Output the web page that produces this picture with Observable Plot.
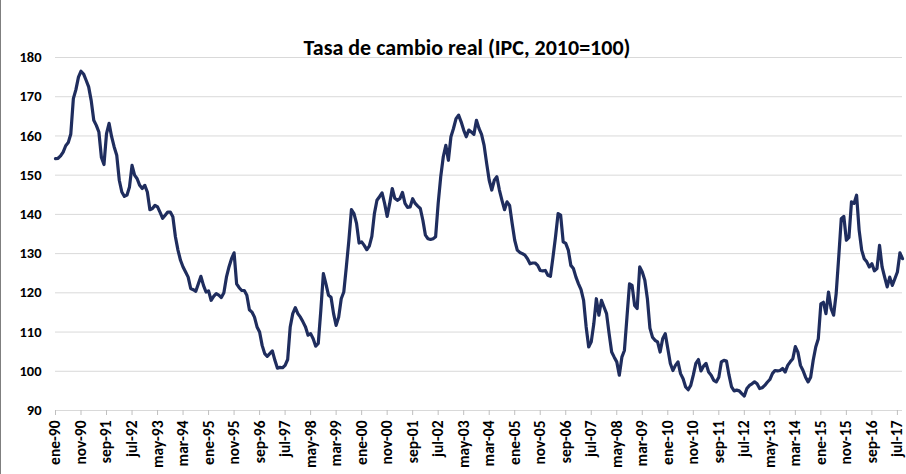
<!DOCTYPE html>
<html>
<head>
<meta charset="utf-8">
<script src="https://cdn.jsdelivr.net/npm/d3@7"></script>
<script src="https://cdn.jsdelivr.net/npm/@observablehq/plot@0.6"></script>
<style>
  html, body { margin: 0; padding: 0; background: #fff; }
  #chart { width: 906px; height: 474px; position: relative; }
  #chart::before { content: ""; position: absolute; left: 0; top: 0; bottom: 0; width: 1px; background: #7f7f7f; }
</style>
</head>
<body>
<div id="chart"></div>
<script>
const title = "Tasa de cambio real (IPC, 2010=100)";

// Monthly real exchange rate, ene-90 .. sep-17 (index 0 = ene-90)
const rer = [
  154.2, 154.3, 154.9, 155.9, 157.5, 158.3, 160.5, 169.5, 171.8, 175.0,
  176.5, 175.8, 174.2, 172.5, 169.0, 164.0, 162.7, 161.0, 154.5, 152.7,
  160.6, 163.2, 159.8, 157.2, 155.1, 148.7, 145.7, 144.6, 144.9, 147.0,
  152.5, 150.0, 149.1, 147.4, 146.6, 147.4, 145.7, 141.2, 141.5, 142.3,
  141.9, 140.5, 139.0, 139.8, 140.6, 140.6, 139.4, 134.3, 130.9, 128.3,
  126.6, 125.3, 124.0, 121.1, 120.8, 120.4, 122.3, 124.2, 121.9, 120.2,
  120.5, 118.1, 119.1, 119.8, 119.4, 118.8, 120.0, 124.0, 126.6, 128.7,
  130.2, 122.3, 121.3, 120.6, 120.6, 119.4, 115.7, 115.1, 113.8, 111.3,
  110.0, 106.6, 104.5, 103.8, 104.5, 105.2, 102.8, 100.8, 101.0, 100.9,
  101.5, 103.0, 111.3, 114.7, 116.2, 114.7, 113.8, 112.6, 111.3, 109.2,
  109.6, 108.3, 106.4, 107.1, 115.5, 124.9, 122.3, 119.4, 118.9, 114.7,
  111.7, 113.8, 118.5, 120.2, 126.6, 133.4, 141.2, 140.2, 137.7, 132.7,
  133.0, 132.1, 131.0, 131.9, 134.4, 140.2, 143.6, 144.5, 145.5, 142.8,
  139.5, 142.8, 146.6, 144.1, 143.6, 144.0, 145.6, 142.8, 141.8, 141.9,
  144.0, 142.8, 142.1, 141.5, 138.5, 134.7, 133.8, 133.6, 133.8, 134.3,
  142.8, 149.6, 154.7, 157.6, 153.8, 159.8, 161.9, 164.4, 165.3, 163.6,
  161.5, 159.8, 161.5, 161.0, 160.4, 164.0, 161.9, 160.4, 157.6, 153.0,
  148.7, 146.2, 148.7, 149.6, 146.2, 143.6, 141.2, 143.2, 142.3, 137.7,
  133.4, 130.9, 130.3, 130.0, 129.6, 128.7, 127.4, 127.6, 127.6, 127.0,
  125.7, 125.6, 125.7, 124.5, 124.2, 129.1, 134.3, 140.2, 139.8, 133.0,
  132.6, 130.9, 127.0, 126.2, 124.0, 122.3, 120.8, 118.1, 111.3, 106.2,
  107.5, 112.1, 118.5, 114.3, 118.1, 116.4, 114.7, 109.6, 104.9, 103.6,
  102.4,  99.0, 103.6, 105.3, 113.8, 122.3, 121.9, 116.8, 116.0, 126.6,
  125.3, 123.2, 118.5, 111.0, 108.7, 107.9, 107.5, 104.9, 108.3, 109.6,
  105.8, 102.0, 100.2, 101.5, 102.4,  99.4,  98.1,  96.0,  95.3,  96.4,
   99.0, 102.0, 103.0, 100.1, 101.3, 102.0,  99.8,  99.0,  97.7,  97.3,
   98.5, 102.4, 102.8, 102.6,  99.0,  96.0,  95.0,  95.2,  95.0,  94.3,
   93.7,  95.6,  96.4,  96.8,  97.3,  96.8,  95.6,  95.8,  96.4,  97.2,
   97.9,  99.4, 100.2, 100.1, 100.2, 100.7,  99.8, 101.5, 102.4, 103.2,
  106.3, 104.9, 101.5, 100.2,  98.5,  97.3,  98.5, 102.8, 106.2, 108.3,
  117.2, 117.6, 114.7, 120.2, 116.0, 114.3, 119.8, 129.1, 138.9, 139.5,
  133.4, 134.1, 143.2, 142.8, 144.9, 136.0, 130.9, 128.7, 127.9, 126.6,
  127.4, 125.6, 126.2, 132.1, 126.6, 124.0, 121.5, 124.0, 121.9, 123.6,
  125.3, 130.2, 128.7
];

// Category tick labels, one every 10 months
const xTickLabels = [
  "ene-90","nov-90","sep-91","jul-92","may-93","mar-94","ene-95","nov-95","sep-96",
  "jul-97","may-98","mar-99","ene-00","nov-00","sep-01","jul-02","may-03","mar-04",
  "ene-05","nov-05","sep-06","jul-07","may-08","mar-09","ene-10","nov-10","sep-11",
  "jul-12","may-13","mar-14","ene-15","nov-15","sep-16","jul-17"
];
const xTickStep = 10;
const yTicks = [90, 100, 110, 120, 130, 140, 150, 160, 170, 180];

const data = rer.map((v, i) => ({i, v}));
const xTicks = xTickLabels.map((_, k) => k * xTickStep);

const font = "Carlito, Calibri, Lato, sans-serif";

const chart = Plot.plot({
  width: 906,
  height: 474,
  marginLeft: 55,
  marginRight: 4,
  marginTop: 57,
  marginBottom: 64,
  style: {fontFamily: font, background: "transparent", color: "#000"},
  x: {domain: [0, rer.length - 1]},
  y: {domain: [90, 180]},
  marks: [
    Plot.gridY(yTicks.filter(d => d > 90), {stroke: "#d9d9d9", strokeOpacity: 1, strokeWidth: 1}),
    Plot.ruleY([90], {stroke: "#d9d9d9", strokeWidth: 1}),
    Plot.axisY({ticks: yTicks, tickSize: 0, tickPadding: 14, fontSize: 14.5, fontWeight: "bold", tickFormat: d => String(d), label: null}),
    Plot.axisX({
      ticks: xTicks,
      tickFormat: d => xTickLabels[d / xTickStep],
      tickRotate: -90,
      tickSize: 5,
      tickPadding: 5,
      stroke: "#bfbfbf",
      fontSize: 15.5,
      fontWeight: "bold",
      label: null
    }),
    Plot.lineY(data, {x: "i", y: "v", stroke: "#1f2d5e", strokeWidth: 3.2, strokeLinejoin: "round", strokeLinecap: "round"}),
    Plot.text([title], {frameAnchor: "top", dy: -18, dx: -12, fontSize: 22, fontWeight: "bold", fill: "#000"})
  ]
});
document.getElementById("chart").appendChild(chart);
</script>
</body>
</html>
